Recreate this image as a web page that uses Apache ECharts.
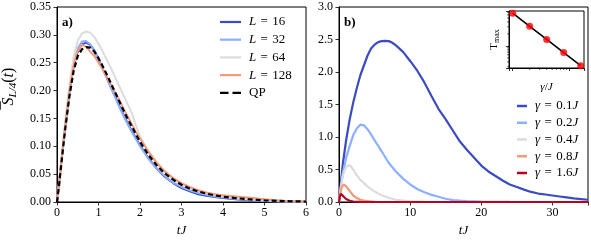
<!DOCTYPE html>
<html><head><meta charset="utf-8">
<script src="https://cdn.jsdelivr.net/npm/echarts@6/dist/echarts.min.js"></script>
<style>html,body{margin:0;padding:0;background:#fff}#c{width:591px;height:244px}</style>
</head><body><div id="c"></div>
<script>
// ---------- Panel a) data ----------
const tA = [0,0.05,0.1,0.15,0.2,0.3,0.4,0.5,0.6,0.7,0.8,0.9,1.0,1.1,1.2,1.3,1.4,1.5,1.6,1.7,1.8,1.9,2.0,2.2,2.4,2.6,2.8,3.0,3.2,3.4,3.6,3.8,4.0,4.3,4.6,5.0,5.5,6.0];
const L16  = [0,0.033,0.068,0.103,0.137,0.197,0.243,0.270,0.283,0.286,0.282,0.272,0.257,0.240,0.223,0.206,0.190,0.173,0.157,0.142,0.128,0.115,0.102,0.079,0.060,0.045,0.034,0.025,0.019,0.014,0.011,0.009,0.007,0.005,0.003,0.002,0.001,0.0005];
const L32  = [0,0.034,0.070,0.105,0.140,0.200,0.247,0.276,0.288,0.289,0.283,0.271,0.256,0.240,0.223,0.205,0.188,0.171,0.155,0.140,0.126,0.113,0.100,0.078,0.060,0.046,0.035,0.027,0.021,0.016,0.013,0.010,0.008,0.006,0.004,0.002,0.001,0.0005];
const L64  = [0,0.035,0.072,0.108,0.145,0.210,0.260,0.290,0.302,0.306,0.304,0.296,0.284,0.270,0.255,0.240,0.224,0.208,0.192,0.176,0.160,0.138,0.118,0.090,0.069,0.053,0.041,0.032,0.025,0.020,0.016,0.013,0.010,0.007,0.005,0.003,0.0015,0.0008];
const L128 = [0,0.035,0.070,0.105,0.140,0.200,0.245,0.272,0.282,0.279,0.270,0.262,0.250,0.238,0.224,0.211,0.196,0.183,0.168,0.154,0.140,0.126,0.114,0.091,0.071,0.055,0.043,0.034,0.027,0.021,0.017,0.014,0.012,0.010,0.008,0.005,0.002,0.001];
const QP   = [0,0.030,0.065,0.100,0.132,0.190,0.235,0.262,0.274,0.278,0.277,0.270,0.258,0.244,0.229,0.213,0.197,0.181,0.165,0.150,0.136,0.122,0.108,0.085,0.066,0.051,0.040,0.031,0.024,0.019,0.015,0.012,0.0095,0.007,0.005,0.003,0.0015,0.0008];
const namesA = ['L = 16','L = 32','L = 64','L = 128','QP'];

// ---------- Panel b) data ----------
const tG01 = [0,0.5,1,1.5,2,2.5,3,3.5,4,4.5,5,5.5,6,6.5,7,7.5,8,9,10,11,12,13,14,15,16,17,18,19,20,21,22,23,24,25,26,27,28,29,30,31,32,33,34,35];
const G01  = [0,0.55,0.95,1.27,1.53,1.75,1.95,2.10,2.25,2.36,2.42,2.46,2.475,2.48,2.475,2.45,2.41,2.31,2.17,2.02,1.84,1.63,1.43,1.27,1.10,0.93,0.80,0.68,0.56,0.47,0.40,0.33,0.27,0.23,0.19,0.155,0.13,0.115,0.10,0.085,0.07,0.055,0.045,0.035];
const tG02 = [0,0.5,1,1.5,2,2.5,3,3.5,4,4.5,5,6,7,8,9,10,11,12,13,14,15,16,17,18,20,24,35];
const G02  = [0,0.42,0.68,0.86,1.03,1.13,1.19,1.18,1.12,1.04,0.95,0.78,0.60,0.47,0.36,0.27,0.20,0.15,0.11,0.08,0.05,0.03,0.02,0.012,0.006,0.002,0];
const tG04 = [0,0.25,0.5,0.75,1,1.5,2,2.5,3,3.5,4,5,6,7,8,9,10,12,15,35];
const G04  = [0,0.22,0.38,0.48,0.54,0.57,0.50,0.41,0.34,0.29,0.24,0.16,0.105,0.065,0.035,0.02,0.01,0.003,0,0];
const tG08 = [0,0.2,0.4,0.7,1,1.5,2,2.5,3,4,5,7,35];
const G08  = [0,0.15,0.23,0.27,0.24,0.17,0.10,0.06,0.035,0.012,0.004,0,0];
const tG16 = [0,0.1,0.25,0.4,0.6,0.8,1,1.5,2,3,5,35];
const G16  = [0,0.08,0.125,0.12,0.09,0.065,0.045,0.02,0.008,0.002,0,0];
const namesB = ['γ = 0.1J','γ = 0.2J','γ = 0.4J','γ = 0.8J','γ = 1.6J'];

// ---------- Inset data ----------
const gammaInset = [0.1,0.2,0.4,0.8,1.6];
const tmaxInset  = [6.6,3.1,1.45,0.68,0.32];
const insetMinorX = [0.2,0.3,0.4,0.5,0.6,0.7,0.8,0.9];
const insetMinorY = [0.3,0.4,0.5,0.6,0.7,0.8,0.9,2,3,4,5,6,7];

const colA = ['#3b4cc0','#8db0fe','#dddcdc','#f49a7b','#000000'];
const colB = ['#3b4cc0','#8db0fe','#dddcdc','#f49a7b','#b40426'];

const FONT = 'Liberation Serif';
const pairs = (xs, ys) => xs.map((x,i)=>[x, ys[i]]);
const SP = '\u2004';

const baseAxis = {
  axisLine:{show:true,onZero:false,lineStyle:{color:'#000',width:1}},
  axisTick:{show:true,inside:false,length:3.5,lineStyle:{color:'#000',width:0.8}},
  splitLine:{show:false},
  axisLabel:{color:'#000',fontFamily:FONT,fontSize:12,margin:5},
};
const legRich = {
  i:{fontFamily:FONT,fontStyle:'italic',fontSize:13,color:'#000',lineHeight:14},
  n:{fontFamily:FONT,fontSize:13,color:'#000',lineHeight:14}
};

const chart = echarts.init(document.getElementById('c'), null, {renderer:'canvas'});

const seriesA = [L16,L32,L64,L128,QP].map((d,k)=>({
  type:'line', name:namesA[k], xAxisIndex:0, yAxisIndex:0, data:pairs(tA,d),
  showSymbol:false, symbol:'none', smooth:false, animation:false,
  lineStyle:{color:colA[k], width:k===4?2.2:2, type:k===4?[5,3]:'solid'},
  itemStyle:{color:colA[k]}, z: k===4?5:2
}));
const seriesB = [[tG01,G01],[tG02,G02],[tG04,G04],[tG08,G08],[tG16,G16]].map((p,k)=>({
  type:'line', name:namesB[k], xAxisIndex:1, yAxisIndex:1, data:pairs(p[0],p[1]),
  showSymbol:false, symbol:'none', animation:false,
  lineStyle:{color:colB[k], width:2.2}, itemStyle:{color:colB[k]}, z:2+k
}));

const dashIcon = 'path://M0,0h8.5v2.2h-8.5z M12.5,0h8.5v2.2h-8.5z';

const option = {
  backgroundColor:'#fff',
  animation:false,
  grid:[
    {left:57, top:7, width:249, height:195, show:true, borderColor:'#000', borderWidth:1, containLabel:false},
    {left:339, top:7, width:249, height:195, show:true, borderColor:'#000', borderWidth:1, containLabel:false},
    {left:509, top:11, width:75, height:57, show:true, borderColor:'#000', borderWidth:1, backgroundColor:'#fff', z:10}
  ],
  xAxis:[
    Object.assign({}, baseAxis, {type:'value', gridIndex:0, min:0, max:6, interval:1,
      name:'tJ', nameLocation:'middle', nameGap:22,
      nameTextStyle:{fontFamily:FONT,fontStyle:'italic',fontSize:13,color:'#000'}}),
    Object.assign({}, baseAxis, {type:'value', gridIndex:1, min:0, max:35, interval:10,
      axisLabel:Object.assign({}, baseAxis.axisLabel, {formatter:v=> v===35?'':String(v)}),
      name:'tJ', nameLocation:'middle', nameGap:22,
      nameTextStyle:{fontFamily:FONT,fontStyle:'italic',fontSize:13,color:'#000'}}),
    {type:'log', gridIndex:2, logBase:10, min:0.086, max:1.83, z:10,
      axisLine:{show:true,onZero:false,lineStyle:{color:'#000',width:1}},
      axisTick:{show:true,length:3,lineStyle:{color:'#000',width:0.8}},
      axisLabel:{show:false}, splitLine:{show:false},
      name:'{g|γ}{n|/}{j|J}', nameLocation:'middle', nameGap:14,
      nameTextStyle:{rich:{g:{fontFamily:FONT,fontStyle:'italic',fontSize:11,color:'#000'},n:{fontFamily:FONT,fontSize:11,color:'#000'},j:{fontFamily:FONT,fontStyle:'italic',fontSize:11,color:'#000'}}}}
  ],
  yAxis:[
    Object.assign({}, baseAxis, {type:'value', gridIndex:0, min:0, max:0.35, interval:0.05,
      axisLabel:Object.assign({}, baseAxis.axisLabel, {margin:6, formatter:v=>v.toFixed(2)})}),
    Object.assign({}, baseAxis, {type:'value', gridIndex:1, min:0, max:3, interval:0.5,
      axisLabel:Object.assign({}, baseAxis.axisLabel, {margin:6, formatter:v=>v.toFixed(1)})}),
    {type:'log', gridIndex:2, logBase:10, min:0.28, max:7.5, z:10,
      axisLine:{show:true,onZero:false,lineStyle:{color:'#000',width:1}},
      axisTick:{show:true,length:3,lineStyle:{color:'#000',width:0.8}},
      axisLabel:{show:false}, splitLine:{show:false},
      name:'{t|T}{m|max}', nameLocation:'middle', nameGap:8, nameRotate:90,
      nameTextStyle:{rich:{t:{fontFamily:FONT,fontSize:11,color:'#000'},m:{fontFamily:FONT,fontSize:8,color:'#000',padding:[6,0,0,0]}}}}
  ],
  legend:[
    {data:namesA.map((n,k)=>({name:n, icon: k===4?dashIcon:'rect'})), orient:'vertical', left:220, top:15, padding:0,
     itemWidth:21, itemHeight:2.2, itemGap:3.7,
     textStyle:{fontFamily:FONT,fontSize:13,color:'#000',lineHeight:14,padding:[0,0,0,3],rich:legRich},
     formatter:n=> n==='QP' ? '{n|QP}' : '{i|L}{n|'+SP+'='+SP+n.split('= ')[1]+'}'},
    {data:namesB.map(n=>({name:n, icon:'rect'})), orient:'vertical', left:517, top:99, padding:0,
     itemWidth:10, itemHeight:2.5, itemGap:2.75,
     textStyle:{fontFamily:FONT,fontSize:13,color:'#000',lineHeight:14,padding:[0,0,0,3],rich:legRich},
     formatter:n=> '{i|γ}{n|'+SP+'='+SP+n.slice(4,7)+'}{i|J}'}
  ],
  graphic:[
    {type:'text', left:62, top:16, style:{text:'a)', font:'bold 13px "Liberation Serif"', fill:'#000'}, z:20},
    {type:'text', left:344, top:16, style:{text:'b)', font:'bold 13px "Liberation Serif"', fill:'#000'}, z:20},
    {type:'text', x:9, y:88, rotation:Math.PI/2, z:20,
     style:{text:'{bar|¯}{s|S}{sub|L/4}{n|(}{i|t}{n|)}', align:'center', verticalAlign:'middle',
       rich:{bar:{fontFamily:FONT,fontSize:16,fill:'#000',width:0,padding:[0,0,0,3]},
         s:{fontFamily:FONT,fontStyle:'italic',fontSize:16,fill:'#000'},
         sub:{fontFamily:FONT,fontStyle:'italic',fontSize:11,fill:'#000',padding:[9,0,0,0]},
         n:{fontFamily:FONT,fontSize:16,fill:'#000'}, i:{fontFamily:FONT,fontStyle:'italic',fontSize:16,fill:'#000'}}}}
  ],
  series: seriesA.concat(seriesB).concat([
    {type:'line', xAxisIndex:2, yAxisIndex:2, data:pairs(gammaInset,tmaxInset), showSymbol:false, symbol:'none',
     lineStyle:{color:'#000',width:1.6}, z:11, silent:true},
    {type:'scatter', xAxisIndex:2, yAxisIndex:2, data:pairs(gammaInset,tmaxInset), symbolSize:7,
     itemStyle:{color:'#ff0000'}, z:12, silent:true},
    {type:'custom', xAxisIndex:2, yAxisIndex:2, data:insetMinorX.map(v=>[v,0.28]), z:12, silent:true,
     renderItem:(params,api)=>{const p=api.coord([api.value(0),0.28]);
       return {type:'line', shape:{x1:p[0],y1:p[1],x2:p[0],y2:p[1]+2}, style:{stroke:'#000',lineWidth:0.6}};}},
    {type:'custom', xAxisIndex:2, yAxisIndex:2, data:insetMinorY.map(v=>[0.086,v]), z:12, silent:true,
     renderItem:(params,api)=>{const p=api.coord([0.086,api.value(1)]);
       return {type:'line', shape:{x1:p[0]-2,y1:p[1],x2:p[0],y2:p[1]}, style:{stroke:'#000',lineWidth:0.6}};}}
  ])
};
chart.setOption(option);
</script></body></html>
